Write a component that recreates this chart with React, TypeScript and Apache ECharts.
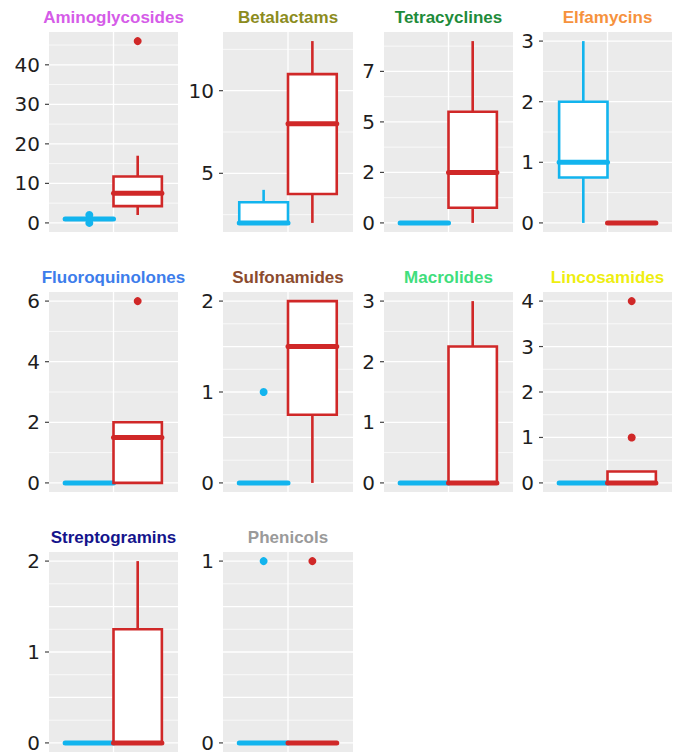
import React, { useEffect, useRef } from 'react';
import * as echarts from 'echarts';

// ---------- data ----------
const classes = [
  'Aminoglycosides', 'Betalactams', 'Tetracyclines', 'Elfamycins',
  'Fluoroquinolones', 'Sulfonamides', 'Macrolides', 'Lincosamides',
  'Streptogramins', 'Phenicols',
];
const classColors = [
  '#D55CE8', '#8C8C1E', '#1E8B3A', '#F6923D',
  '#3D7DEB', '#8B4B2E', '#40DE7C', '#EEEE10',
  '#14148C', '#9A9A9A',
];
const groups = ['Group 1', 'Group 2'];
const groupColors = ['#12B4EE', '#D02828'];

// [min, Q1, median, Q3, max] per class
const group1Stats = [
  [1, 1, 1, 1, 1],
  [2, 2, 2, 3.25, 4],
  [0, 0, 0, 0, 0],
  [0, 0.75, 1, 2, 3],
  [0, 0, 0, 0, 0],
  [0, 0, 0, 0, 0],
  [0, 0, 0, 0, 0],
  [0, 0, 0, 0, 0],
  [0, 0, 0, 0, 0],
  [0, 0, 0, 0, 0],
];
const group2Stats = [
  [2, 4.25, 7.5, 11.75, 17],
  [2, 3.75, 8, 11, 13],
  [0, 0.75, 2.5, 5.5, 9],
  [0, 0, 0, 0, 0],
  [0, 0, 1.5, 2, 2],
  [0, 0.75, 1.5, 2, 2],
  [0, 0, 0, 2.25, 3],
  [0, 0, 0, 0.25, 0.25],
  [0, 0, 0, 1.25, 2],
  [0, 0, 0, 0, 0],
];
const group1Outliers = [[0, 2], [], [], [], [], [1], [], [], [], [1]];
const group2Outliers = [[46], [], [], [], [6], [], [], [1, 4], [], [1]];

// major grid breaks per panel
const majorBreaks = [
  [0, 10, 20, 30, 40],
  [5, 10],
  [0, 2.5, 5, 7.5],
  [0, 1, 2, 3],
  [0, 2, 4, 6],
  [0, 0.5, 1, 1.5, 2],
  [0, 1, 2, 3],
  [0, 1, 2, 3, 4],
  [0, 0.5, 1, 1.5, 2],
  [0, 0.25, 0.5, 0.75, 1],
];
// labelled ticks and their texts
const tickValues = [
  [0, 10, 20, 30, 40],
  [5, 10],
  [0, 2.5, 5, 7.5],
  [0, 1, 2, 3],
  [0, 2, 4, 6],
  [0, 1, 2],
  [0, 1, 2, 3],
  [0, 1, 2, 3, 4],
  [0, 1, 2],
  [0, 1],
];
const tickTexts = [
  ['0', '10', '20', '30', '40'],
  ['5', '10'],
  ['0', '2', '5', '7'],
  ['0', '1', '2', '3'],
  ['0', '2', '4', '6'],
  ['0', '1', '2'],
  ['0', '1', '2', '3'],
  ['0', '1', '2', '3', '4'],
  ['0', '1', '2'],
  ['0', '1'],
];

// ---------- layout ----------
const colLeft = [49, 223, 384, 543];
const colWidth = [129, 130, 129, 129];
const rowTop = [32, 292, 552];
const panelHeight = 200;
const X_MIN = -5 / 6;
const X_MAX = 11 / 6;

function buildOption() {
  const grid: any[] = [];
  const xAxis: any[] = [];
  const yAxis: any[] = [];
  const series: any[] = [];
  const title: any[] = [];

  classes.forEach((name, i) => {
    const col = i % 4;
    const row = Math.floor(i / 4);
    const left = colLeft[col];
    const width = colWidth[col];
    const top = rowTop[row];

    const all = [
      ...group1Stats[i], ...group2Stats[i], ...group1Outliers[i], ...group2Outliers[i],
    ];
    const lo = Math.min(...all);
    const hi = Math.max(...all);
    const pad = (hi - lo) * 0.05;
    const ymin = lo - pad;
    const ymax = hi + pad;

    grid.push({
      left, top, width, height: panelHeight,
      show: true, backgroundColor: '#EBEBEB', borderWidth: 0,
    });
    title.push({
      text: name,
      left: left + width / 2,
      top: top - 23,
      textAlign: 'center',
      padding: 0,
      textStyle: {
        fontSize: 17, fontWeight: 'bold', color: classColors[i],
        fontFamily: 'Liberation Sans, Arial, sans-serif',
      },
    });
    xAxis.push({
      gridIndex: i, type: 'value', min: X_MIN, max: X_MAX, show: false,
    });
    const tv = tickValues[i];
    const tt = tickTexts[i];
    yAxis.push({
      gridIndex: i, type: 'value', min: ymin, max: ymax,
      axisLine: { show: false },
      splitLine: { show: false },
      axisTick: { show: false },
      axisLabel: {
        customValues: tv,
        margin: 9,
        fontSize: 20,
        fontFamily: 'DejaVu Sans, sans-serif',
        color: '#1E1E1E',
        formatter: (v: number) => {
          const k = tv.findIndex((t) => Math.abs(t - v) < 1e-9);
          return k >= 0 ? tt[k] : '';
        },
      },
    });

    // grid lines (major / minor / vertical) and tick marks
    const mb = majorBreaks[i];
    const step = mb[1] - mb[0];
    const gridData: number[][] = [];
    mb.forEach((v) => gridData.push([0.5, v, 1]));
    for (let v = mb[0] - step / 2; v <= ymax; v += step) {
      if (v >= ymin) gridData.push([0.5, v, 0]);
    }
    gridData.push([0.5, 0, 2]);
    tv.forEach((v) => gridData.push([0.5, v, 3]));
    series.push({
      type: 'custom',
      xAxisIndex: i, yAxisIndex: i,
      z: 1, silent: true, clip: false,
      encode: { x: 0, y: 1 },
      data: gridData,
      renderItem: (params: any, api: any) => {
        const cs = params.coordSys;
        const kind = api.value(2);
        if (kind === 2) {
          const x = api.coord([api.value(0), ymin])[0];
          return {
            type: 'line',
            shape: { x1: x, y1: cs.y, x2: x, y2: cs.y + cs.height },
            style: { stroke: '#FFFFFF', lineWidth: 1.3 },
          };
        }
        const y = api.coord([0, api.value(1)])[1];
        if (kind === 3) {
          return {
            type: 'line',
            shape: { x1: cs.x - 4, y1: y, x2: cs.x, y2: y },
            style: { stroke: '#444444', lineWidth: 1.2 },
          };
        }
        return {
          type: 'line',
          shape: { x1: cs.x, y1: y, x2: cs.x + cs.width, y2: y },
          style: { stroke: '#FFFFFF', lineWidth: kind === 1 ? 1.3 : 0.7 },
        };
      },
    });

    // boxes
    const statsList = [group1Stats[i], group2Stats[i]];
    series.push({
      type: 'custom',
      name: 'box',
      xAxisIndex: i, yAxisIndex: i,
      z: 3,
      encode: { x: 0, y: [1, 2, 3, 4, 5] },
      data: statsList.map((s, g) => [g, ...s]),
      renderItem: (params: any, api: any) => {
        const gx = api.value(0);
        const vals = [1, 2, 3, 4, 5].map((k) => api.value(k));
        const ys = vals.map((v) => api.coord([gx, v])[1]);
        const cx = api.coord([gx, vals[0]])[0];
        const hw = api.size([1, 0])[0] / 2;
        const color = groupColors[params.dataIndex];
        return {
          type: 'group',
          children: [
            {
              type: 'line',
              shape: { x1: cx, y1: ys[0], x2: cx, y2: ys[1] },
              style: { stroke: color, lineWidth: 2.6 },
            },
            {
              type: 'line',
              shape: { x1: cx, y1: ys[3], x2: cx, y2: ys[4] },
              style: { stroke: color, lineWidth: 2.6 },
            },
            {
              type: 'rect',
              shape: { x: cx - hw, y: ys[3], width: 2 * hw, height: ys[1] - ys[3] },
              style: { fill: '#FFFFFF', stroke: color, lineWidth: 2.6 },
            },
            {
              type: 'line',
              shape: { x1: cx - hw, y1: ys[2], x2: cx + hw, y2: ys[2] },
              style: { stroke: color, lineWidth: 5, lineCap: 'round' },
            },
          ],
        };
      },
    });

    // outliers
    [group1Outliers[i], group2Outliers[i]].forEach((outs, g) => {
      series.push({
        type: 'scatter',
        name: groups[g],
        xAxisIndex: i, yAxisIndex: i,
        z: 4,
        symbolSize: 8,
        itemStyle: { color: groupColors[g], opacity: 1 },
        data: outs.map((v) => [g, v]),
      });
    });
  });

  return {
    animation: false,
    backgroundColor: '#FFFFFF',
    title, grid, xAxis, yAxis, series,
  };
}

export default function App() {
  const ref = useRef<HTMLDivElement>(null);
  useEffect(() => {
    if (!ref.current) return;
    const chart = echarts.init(ref.current, undefined, { renderer: 'svg' });
    chart.setOption(buildOption() as any);
    return () => chart.dispose();
  }, []);
  return (
    <div
      ref={ref}
      style={{ position: 'absolute', left: 0, top: 0, width: 673, height: 753 }}
    />
  );
}
